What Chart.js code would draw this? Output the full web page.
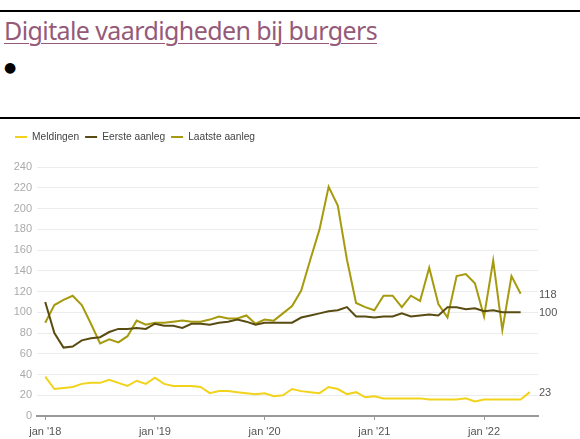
<!DOCTYPE html>
<html>
<head>
<meta charset="utf-8">
<script src="https://cdn.jsdelivr.net/npm/chart.js@4"></script>
<style>
  body { margin: 0; background: #fff; width: 580px; height: 439px; overflow: hidden; position: relative; }
  .lijn-boven { position: absolute; left: 0; top: 10px; width: 580px; height: 2px; background: #000; }
  .lijn-onder { position: absolute; left: 0; top: 117px; width: 580px; height: 2px; background: #000; }
  h1 { position: absolute; left: 4px; top: 13px; margin: 0; font-family: "Noto Sans", sans-serif; font-weight: normal;
       font-size: 25px; color: #955a79; text-decoration: underline; text-decoration-thickness: 1px; text-underline-offset: 3px;
       letter-spacing: -0.6px; }
  .bolletje { position: absolute; left: 4px; top: 59px; font-family: "DejaVu Sans", sans-serif; font-size: 14px; color: #000; }
  #wrap { position: absolute; left: 0; top: 120px; width: 580px; height: 319px; }
</style>
</head>
<body>
<div class="lijn-boven"></div>
<h1>Digitale vaardigheden bij burgers</h1>
<div class="bolletje">●</div>
<div class="lijn-onder"></div>
<div id="wrap"><canvas id="grafiek"></canvas></div>
<script>
// maandelijkse reeksen, index 0 = januari 2018
const reeksNamen = ['Meldingen', 'Eerste aanleg', 'Laatste aanleg'];
const meldingen = [38, 26, 27, 28, 31, 32, 32, 35, 32, 29, 34, 31, 37, 31, 29, 29, 29, 28, 22, 24, 24, 23, 22, 21,
  22, 19, 20, 26, 24, 23, 22, 28, 26, 21, 23, 18, 19, 17, 17, 17, 17, 17, 16, 16, 16, 16, 17, 14,
  16, 16, 16, 16, 16, 23];
const eersteAanleg = [110, 80, 66, 67, 73, 75, 76, 81, 84, 84, 85, 84, 89, 87, 87, 85, 89, 89, 88, 90, 91, 93, 91, 88,
  90, 90, 90, 90, 95, 97, 99, 101, 102, 105, 96, 96, 95, 96, 96, 99, 96, 97, 98, 97, 105, 105, 103, 104,
  101, 102, 100, 100, 100];
const laatsteAanleg = [90, 107, 112, 116, 107, 89, 70, 74, 71, 77, 92, 88, 90, 90, 91, 92, 91, 91, 93, 96, 94, 94, 97, 89,
  93, 92, 99, 106, 121, 151, 180, 221, 203, 151, 109, 105, 102, 116, 116, 105, 116, 111, 143, 108, 95, 135, 137, 128,
  96, 150, 83, 135, 118];
const tickMaanden = [0, 12, 24, 36, 48];
const tickLabels = ["jan '18", "jan '19", "jan '20", "jan '21", "jan '22"];
const kleuren = ['#f2d31b', '#594c12', '#a69a0e'];

const reeksen = [meldingen, eersteAanleg, laatsteAanleg];

// laatste waarde rechts naast de lijn
const eindLabels = {
  id: 'eindLabels',
  afterDatasetsDraw(chart) {
    const ctx = chart.ctx;
    ctx.save();
    ctx.font = '11px "Liberation Sans", Arial, sans-serif';
    ctx.fillStyle = '#555';
    ctx.textAlign = 'left';
    ctx.textBaseline = 'middle';
    chart.data.datasets.forEach((ds, i) => {
      const meta = chart.getDatasetMeta(i);
      const p = meta.data[meta.data.length - 1];
      const v = ds.data[ds.data.length - 1].y;
      ctx.fillText(String(v), chart.chartArea.right + 1, p.y + 1);
    });
    ctx.restore();
  }
};

const legendRuimte = {
  id: 'legendRuimte',
  beforeInit(chart) {
    const fit = chart.legend.fit;
    chart.legend.fit = function () {
      fit.bind(chart.legend)();
      this.height += 15;
    };
  }
};

new Chart(document.getElementById('grafiek'), {
  type: 'line',
  data: {
    datasets: reeksen.map((r, i) => ({
      label: reeksNamen[i],
      data: r.map((v, m) => ({ x: m, y: v })),
      borderColor: kleuren[i],
      backgroundColor: kleuren[i],
      borderWidth: 2,
      pointRadius: 0,
      tension: 0
    }))
  },
  options: {
    responsive: true,
    maintainAspectRatio: false,
    animation: false,
    layout: { padding: { left: 9, right: 42, top: 6, bottom: 0 } },
    plugins: {
      tooltip: { enabled: false },
      legend: {
        position: 'top',
        align: 'start',
        labels: {
          boxWidth: 12,
          boxHeight: 2,
          padding: 6,
          color: '#444',
          font: { family: '"Liberation Sans", Arial, sans-serif', size: 10.2 },
          generateLabels: (chart) => Chart.defaults.plugins.legend.labels.generateLabels(chart)
            .map(l => ({ ...l, lineWidth: 0 }))
        }
      }
    },
    scales: {
      x: {
        type: 'linear',
        min: -0.9,
        max: 53.9,
        afterBuildTicks: (s) => { s.ticks = tickMaanden.map(v => ({ value: v })); },
        afterFit: (s) => { s.height = 23; },
        ticks: {
          autoSkip: false,
          padding: 5,
          color: '#555',
          font: { family: '"Liberation Sans", Arial, sans-serif', size: 11 },
          callback: (v) => tickLabels[tickMaanden.indexOf(v)]
        },
        grid: { drawOnChartArea: false, drawTicks: true, tickLength: 4, color: '#999', lineWidth: 1 },
        border: { display: true, color: '#999', width: 2 }
      },
      y: {
        min: 0,
        max: 240,
        afterFit: (s) => { s.width = 28; },
        ticks: {
          stepSize: 20,
          padding: 5,
          color: '#aaa',
          font: { family: '"Liberation Sans", Arial, sans-serif', size: 11 }
        },
        grid: { drawTicks: false, color: '#ececec', lineWidth: 1 },
        border: { display: false }
      }
    }
  },
  plugins: [eindLabels, legendRuimte]
});
</script>
</body>
</html>
